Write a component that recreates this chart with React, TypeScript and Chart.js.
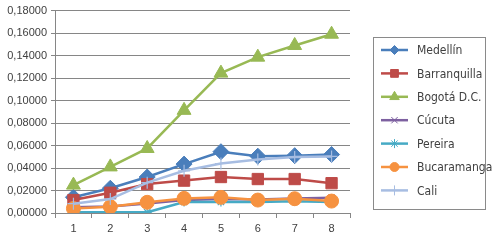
import React, { useEffect, useRef } from "react";
import { Chart, registerables } from "chart.js";
import { drawPoint } from "chart.js/helpers";

Chart.register(...registerables);

const categories = ["1", "2", "3", "4", "5", "6", "7", "8"];
const medellin = [0.014, 0.022, 0.032, 0.0435, 0.0545, 0.0505, 0.051, 0.052];
const barranquilla = [0.0115, 0.018, 0.0257, 0.0288, 0.032, 0.0302, 0.0302, 0.0265];
const bogota = [0.0248, 0.041, 0.0574, 0.0913, 0.1244, 0.1386, 0.149, 0.159];
const cucuta = [0.0052, 0.0058, 0.0085, 0.0115, 0.0125, 0.012, 0.0128, 0.0135];
const pereira = [0.0006, 0.0006, 0.0006, 0.0098, 0.0098, 0.0098, 0.0105, 0.0098];
const bucaramanga = [0.004, 0.0056, 0.0095, 0.013, 0.0139, 0.0115, 0.0127, 0.0106];
const cali = [0.0083, 0.0124, 0.027, 0.0375, 0.044, 0.0476, 0.0497, 0.0503];
const yTicks = [0, 0.02, 0.04, 0.06, 0.08, 0.1, 0.12, 0.14, 0.16, 0.18];

const seriesDefs = [
  { label: "Medellín", data: medellin, color: "#4A7EBB", style: "rectRot", r: 8, lr: 4.5 },
  { label: "Barranquilla", data: barranquilla, color: "#BE4B48", style: "rect", r: 8, lr: 5.5 },
  { label: "Bogotá D.C.", data: bogota, color: "#98B954", style: "triangle", r: 8, lr: 5.5 },
  { label: "Cúcuta", data: cucuta, color: "#7D60A0", style: "crossRot", r: 4.5, lr: 4.5 },
  { label: "Pereira", data: pereira, color: "#46AAC5", style: "star", r: 4.5, lr: 4.5 },
  { label: "Bucaramanga", data: bucaramanga, color: "#F69240", style: "circle", r: 7, lr: 4.5 },
  { label: "Cali", data: cali, color: "#A7BDE2", style: "cross", r: 6, lr: 5 },
];

const FONT = "'Liberation Sans', Arial, sans-serif";
const LEGEND_FONT = "12px 'Liberation Sans Narrow', 'Arial Narrow', 'DejaVu Sans Condensed', sans-serif";
const TEXT = "#404040";
const GRID = "#868686";

const legendBox = {
  id: "legendBox",
  afterDraw(chart: any) {
    const ctx = chart.ctx;
    ctx.save();
    ctx.strokeStyle = "#8A8A8A";
    ctx.lineWidth = 1;
    ctx.strokeRect(373.5, 37.5, 112, 172);
    const x0 = 381;
    const x1 = 408;
    seriesDefs.forEach((s, i) => {
      const y = 50 + i * 23.4;
      ctx.strokeStyle = s.color;
      ctx.lineWidth = 2.5;
      ctx.beginPath();
      ctx.moveTo(x0, y);
      ctx.lineTo(x1, y);
      ctx.stroke();
      ctx.fillStyle = s.color;
      ctx.strokeStyle = s.color;
      ctx.lineWidth = 1;
      drawPoint(ctx, { pointStyle: s.style as any, radius: s.lr, borderWidth: 1, rotation: 0 } as any, (x0 + x1) / 2, y);
      ctx.fillStyle = TEXT;
      ctx.font = LEGEND_FONT;
      ctx.textBaseline = "middle";
      ctx.textAlign = "left";
      ctx.fillText(s.label, 417, y + 1);
    });
    ctx.restore();
  },
};

export default function App() {
  const ref = useRef<HTMLCanvasElement>(null);
  useEffect(() => {
    document.body.style.margin = "0";
    const chart = new Chart(ref.current!, {
      type: "line",
      data: {
        labels: categories,
        datasets: seriesDefs.map((s, i) => ({
          label: s.label,
          data: s.data,
          borderColor: s.color,
          backgroundColor: s.color,
          borderWidth: 2.5,
          pointStyle: s.style as any,
          pointRadius: s.r,
          pointBorderWidth: s.style === "cross" || s.style === "crossRot" || s.style === "star" ? 1.2 : 1,
          pointBorderColor: s.color,
          pointBackgroundColor: s.color,
          tension: 0,
          fill: false,
          order: seriesDefs.length - i,
        })),
      },
      options: {
        animation: false,
        responsive: false,
        maintainAspectRatio: false,
        layout: { padding: { top: 10, right: 146, left: 0, bottom: 0 } },
        plugins: { legend: { display: false }, tooltip: { enabled: false } },
        scales: {
          x: {
            offset: true,
            grid: { display: true, drawOnChartArea: false, drawTicks: true, tickLength: 5, color: GRID, offset: true },
            border: { display: true, color: GRID, width: 1 },
            ticks: { color: TEXT, font: { family: FONT, size: 11 }, padding: 4, maxRotation: 0 },
            afterFit: (scale: any) => { scale.height = 30; },
          },
          y: {
            min: 0,
            max: 0.18,
            afterBuildTicks: (scale: any) => { scale.ticks = yTicks.map((v) => ({ value: v })); },
            grid: { color: GRID, lineWidth: 1, drawTicks: true, tickLength: 4 },
            border: { display: true, color: GRID, width: 1 },
            ticks: {
              color: TEXT,
              font: { family: FONT, size: 11 },
              padding: 4,
              callback: (v: any) => Number(v).toFixed(5).replace(".", ","),
            },
            afterFit: (scale: any) => { scale.width = 55; },
          },
        },
      },
      plugins: [legendBox],
    });
    return () => chart.destroy();
  }, []);
  return (
    <div style={{ position: "fixed", left: 0, top: 0, width: 496, height: 243, background: "#fff" }}>
      <canvas ref={ref} width={496} height={243} style={{ width: 496, height: 243 }} />
    </div>
  );
}
